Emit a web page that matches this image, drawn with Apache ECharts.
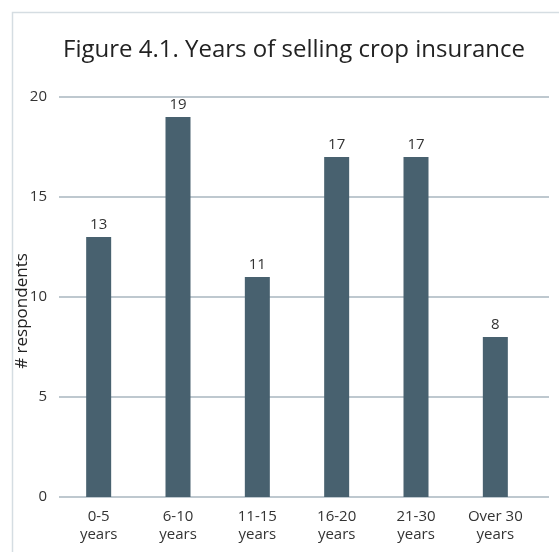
<!DOCTYPE html>
<html><head><meta charset="utf-8">
<script src="https://cdn.jsdelivr.net/npm/echarts@6/dist/echarts.min.js"></script>
<style>html,body{margin:0;padding:0;background:#fff}#c{width:559px;height:552px}</style>
</head><body><div id="c"></div>
<script>
const categories = ["0-5\nyears", "6-10\nyears", "11-15\nyears", "16-20\nyears", "21-30\nyears", "Over 30\nyears"];
const values = [13, 19, 11, 17, 17, 8];
const yTicks = {min: 0, max: 20, interval: 5};

const chart = echarts.init(document.getElementById('c'), null, {renderer: 'canvas'});
const font = '"Open Sans", "Noto Sans", sans-serif';
chart.setOption({
  animation: false,
  textStyle: {fontFamily: font},
  graphic: [{type: 'rect', left: 10, top: 10, shape: {width: 600, height: 600}, style: {fill: 'none', stroke: '#d5dde2', lineWidth: 1.5}}],
  title: {text: 'Figure 4.1. Years of selling crop insurance', left: 58, top: 33,
    textStyle: {fontFamily: font, fontSize: 24, fontWeight: 'normal', color: '#222'}},
  grid: [
    {left: 59, top: 97, width: 476, height: 400},
    {left: 59, top: 97, width: 490, height: 400}
  ],
  xAxis: [
    {type: 'category', gridIndex: 0, data: categories,
      axisLine: {show: false}, axisTick: {show: false},
      axisLabel: {fontFamily: font, fontSize: 15, color: '#333', lineHeight: 18, margin: 11}},
    {type: 'category', gridIndex: 1, data: [], show: false}
  ],
  yAxis: [
    {type: 'value', gridIndex: 0, min: yTicks.min, max: yTicks.max, interval: yTicks.interval,
      axisLabel: {show: false}, splitLine: {show: false}, axisLine: {show: false}, axisTick: {show: false}},
    {type: 'value', gridIndex: 1, min: yTicks.min, max: yTicks.max, interval: yTicks.interval,
      name: '# respondents', nameLocation: 'middle', nameGap: 28, nameRotate: 90, nameMoveOverlap: false,
      nameTextStyle: {fontFamily: font, fontSize: 17, color: '#222', padding: [0, 0, 0, -28]},
      axisLabel: {fontFamily: font, fontSize: 15, color: '#333', margin: 12},
      axisLine: {show: false}, axisTick: {show: false},
      splitLine: {lineStyle: {color: '#a9b6bf', width: 1.5}}}
  ],
  series: [{
    type: 'bar', xAxisIndex: 0, yAxisIndex: 0, data: values, barWidth: 25,
    itemStyle: {color: '#48616f'},
    label: {show: true, position: 'top', distance: 5, fontFamily: font, fontSize: 15, color: '#333'}
  }]
});
</script></body></html>
